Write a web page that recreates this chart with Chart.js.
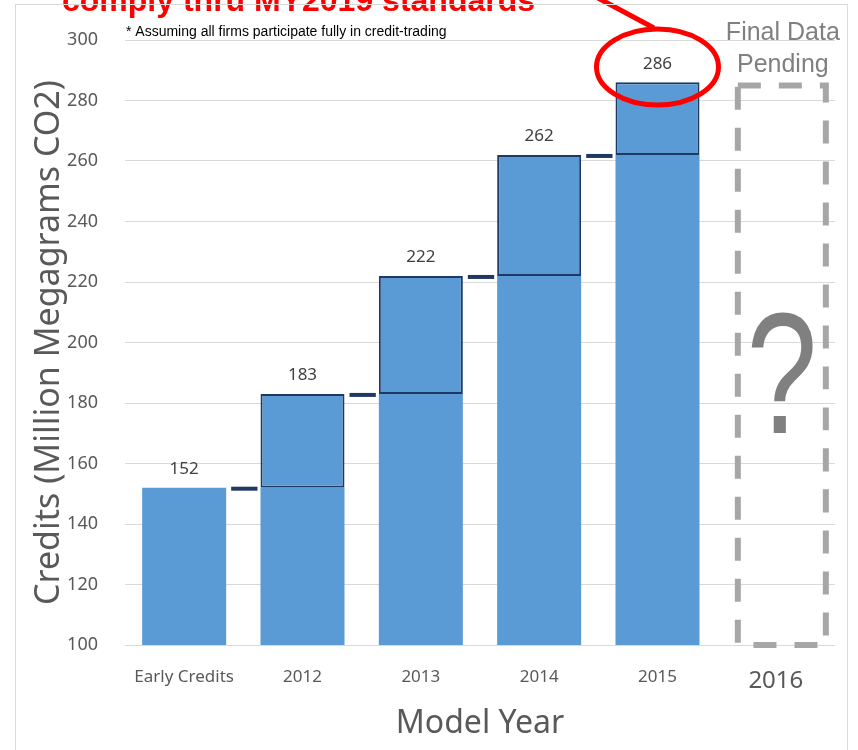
<!DOCTYPE html>
<html>
<head>
<meta charset="utf-8">
<script src="https://cdn.jsdelivr.net/npm/chart.js@4"></script>
<style>
  html, body { margin: 0; padding: 0; background: #fff; }
  #wrap { width: 858px; height: 750px; }
</style>
</head>
<body>
<div id="wrap"><canvas id="creditChart" width="858" height="750"></canvas></div>
<script>
const categories = ['Early Credits', '2012', '2013', '2014', '2015', '2016'];
const baseValues = [152, 152, 183, 222, 262, null];
const addedValues = [null, 31, 39, 40, 24, null];
const totalValues = [152, 183, 222, 262, 286, null];
const yTicks = [100, 120, 140, 160, 180, 200, 220, 240, 260, 280, 300];
const pendingTop = 285;

const greyText = '#595959';
const navy = '#1f3864';

// labels over bars, connectors, pending box and the callout
const extras = {
    id: 'extras',
    afterDatasetsDraw(chart) {
        const ctx = chart.ctx;
        const x = chart.scales.x;
        const y = chart.scales.y;
        const meta = chart.getDatasetMeta(1);
        const baseMeta = chart.getDatasetMeta(0);

        // connectors between bars
        ctx.save();
        ctx.strokeStyle = navy;
        ctx.lineWidth = 4;
        for (let i = 0; i < 4; i++) {
            const a = (meta.data[i] && addedValues[i] != null) ? meta.data[i] : baseMeta.data[i];
            const b = baseMeta.data[i + 1];
            const yy = y.getPixelForValue(totalValues[i]) + 1;
            ctx.beginPath();
            ctx.moveTo(a.x + a.width / 2 + 5, yy);
            ctx.lineTo(b.x - b.width / 2 - 3, yy);
            ctx.stroke();
        }
        ctx.restore();

        // value labels
        ctx.save();
        ctx.font = '17px "Noto Sans"';
        ctx.fillStyle = '#404040';
        ctx.textAlign = 'center';
        ctx.textBaseline = 'bottom';
        totalValues.forEach((v, i) => {
            if (v == null) return;
            ctx.fillText(String(v), x.getPixelForValue(i), y.getPixelForValue(v) - 10);
        });
        ctx.restore();

        // pending box for 2016
        const c = x.getPixelForValue(5);
        ctx.save();
        ctx.strokeStyle = '#a6a6a6';
        ctx.lineWidth = 6;
        ctx.setLineDash([23, 18]);
        ctx.strokeRect(c - 38, y.getPixelForValue(pendingTop), 88, y.getPixelForValue(100) - y.getPixelForValue(pendingTop));
        ctx.restore();

        ctx.save();
        ctx.fillStyle = '#808080';
        ctx.textAlign = 'center';
        ctx.textBaseline = 'alphabetic';
        ctx.font = '25px "Liberation Sans"';
        ctx.fillText('Final Data', c + 7, 40);
        ctx.fillText('Pending', c + 7, 72);
        ctx.translate(c + 6, 433);
        ctx.scale(0.74, 1);
        ctx.font = '172px "Liberation Sans"';
        ctx.fillText('?', 0, 0);
        ctx.restore();

        // note
        ctx.save();
        ctx.fillStyle = '#000';
        ctx.font = '14px "Liberation Sans"';
        ctx.textBaseline = 'alphabetic';
        ctx.fillText('* Assuming all firms participate fully in credit-trading', 126, 36);

        // red callout
        ctx.fillStyle = '#ff0000';
        ctx.font = 'bold 32px "Liberation Sans"';
        ctx.fillText('comply thru MY2019 standards', 62, 11);
        ctx.strokeStyle = '#ff0000';
        ctx.lineWidth = 5;
        ctx.beginPath();
        ctx.moveTo(598, -2);
        ctx.lineTo(654, 28);
        ctx.stroke();
        ctx.beginPath();
        ctx.ellipse(x.getPixelForValue(4), 67, 61, 38, 0, 0, Math.PI * 2);
        ctx.stroke();
        ctx.restore();

        // frame
        ctx.save();
        ctx.strokeStyle = '#d9d9d9';
        ctx.lineWidth = 1;
        ctx.strokeRect(15.5, 4.5, 832, 760);
        ctx.restore();
    }
};

const chart = new Chart(document.getElementById('creditChart').getContext('2d'), {
    type: 'bar',
    data: {
        labels: categories,
        datasets: [{
            data: baseValues,
            backgroundColor: '#5b9bd5',
            borderWidth: 0,
            barPercentage: 0.71,
            categoryPercentage: 1
        }, {
            data: addedValues,
            backgroundColor: '#5b9bd5',
            borderColor: navy,
            borderWidth: 2,
            borderSkipped: false,
            barPercentage: 0.71,
            categoryPercentage: 1
        }]
    },
    options: {
        responsive: false,
        animation: false,
        layout: {
            padding: { left: 20, right: 23, top: 40, bottom: 0 }
        },
        plugins: {
            legend: { display: false },
            tooltip: { enabled: false }
        },
        scales: {
            x: {
                stacked: true,
                grid: { display: false },
                border: { display: false },
                ticks: {
                    padding: 14,
                    color: greyText,
                    font: (c) => c.index === 5 ? { family: 'Noto Sans', size: 24 } : { family: 'Noto Sans', size: 17 }
                },
                title: {
                    display: true,
                    text: 'Model Year',
                    color: greyText,
                    font: { family: 'Noto Sans', size: 32 },
                    padding: { top: 0, bottom: 7 }
                },
                afterFit: (s) => { s.height = 105; }
            },
            y: {
                stacked: true,
                min: 100,
                max: 300,
                afterBuildTicks: (s) => { s.ticks = yTicks.map(v => ({ value: v })); },
                grid: { color: '#d9d9d9', drawTicks: false },
                border: { display: false },
                ticks: {
                    padding: 27,
                    color: greyText,
                    font: { family: 'Noto Sans', size: 18 }
                },
                title: {
                    display: true,
                    text: 'Credits (Million Megagrams CO2)',
                    color: greyText,
                    font: { family: 'Noto Sans', size: 34 },
                    padding: { top: 9, bottom: 0 }
                },
                afterFit: (s) => { s.width = 105; }
            }
        }
    },
    plugins: [extras]
});
</script>
</body>
</html>
